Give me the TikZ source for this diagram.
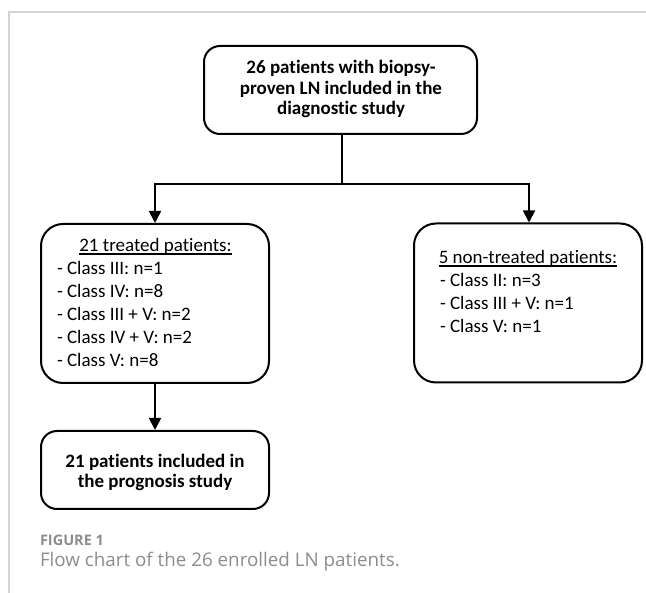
\documentclass[tikz,border=0pt]{standalone}
\usepackage{fontspec}
\setmainfont{Carlito}[Ligatures={NoCommon,NoContextual}, Contextuals=NoAlternate]
\newfontfamily\capfont{Open Sans}[Ligatures=NoCommon]
\usetikzlibrary{arrows.meta}
\definecolor{framegray}{HTML}{D4D4D4}
\definecolor{capgray}{HTML}{8C8C8C}
\newcommand{\boxfont}{\fontsize{19}{20.5}\selectfont}
\newcommand{\listfont}{\fontsize{19}{23}\selectfont}
\newcommand{\myul}[1]{\setbox0\hbox{#1}\rlap{\rule[-2.6pt]{\wd0}{1.1pt}}\box0}
\tikzset{
  flowbox/.style={draw=black, line width=2pt, rectangle, inner sep=0pt},
  txt/.style={inner sep=0pt, outer sep=0pt},
  conn/.style={draw=black, line width=1.8pt},
  arr/.style={conn, -{Triangle[length=12pt,width=12pt]}},
}
\begin{document}
\begin{tikzpicture}[x=1pt, y=-1pt]
\useasboundingbox (0,0) rectangle (646,593);
% frame
\draw[framegray, line width=1.2pt] (9,593) -- (9,12) -- (646,12);
% boxes
\node[flowbox, rounded corners=16pt, minimum width=273pt, minimum height=88pt] (top) at (340.5,90) {};
\node[flowbox, rounded corners=22pt, minimum width=228pt, minimum height=159pt] (left) at (155,303.5) {};
\node[flowbox, rounded corners=22pt, minimum width=228pt, minimum height=159pt] (right) at (528,303) {};
\node[flowbox, rounded corners=16pt, minimum width=228pt, minimum height=78pt] (bottom) at (155,470) {};
% texts
\node[txt, anchor=base, font=\boxfont\bfseries] (toptxt) at (341,74)
  {\begin{tabular}[t]{@{}c@{}}26 patients with biopsy-\\proven LN included in the\\diagnostic study\end{tabular}};
\node[txt, anchor=base, font=\listfont] (lefthead) at (155.5,252) {\myul{21 treated patients:}};
\node[txt, anchor=base west, font=\listfont] (leftlist) at (57,275)
  {\begin{tabular}[t]{@{}l@{}}- Class III: n=1\\- Class IV: n=8\\- Class III + V: n=2\\- Class IV + V: n=2\\- Class V: n=8\end{tabular}};
\node[txt, anchor=base, font=\listfont] (righthead) at (528,264) {\myul{5 non-treated patients:}};
\node[txt, anchor=base west, font=\listfont] (rightlist) at (440,287)
  {\begin{tabular}[t]{@{}l@{}}- Class II: n=3\\- Class III + V: n=1\\- Class V: n=1\end{tabular}};
\node[txt, anchor=base, font=\boxfont\bfseries] (bottomtxt) at (155,467.5)
  {\begin{tabular}[t]{@{}c@{}}21 patients included in\\the prognosis study\end{tabular}};
% caption
\node[txt, anchor=base west, font=\capfont\bfseries\fontsize{14.5}{17}\selectfont, text=capgray] (figlabel) at (40,546) {FIGURE 1};
\node[txt, anchor=base west, font=\capfont\fontsize{18.8}{22}\selectfont, text=capgray] (caption) at (40,567) {Flow chart of the 26 enrolled LN patients.};
% connectors
\coordinate (split) at (342,184);
\draw[conn] (top.south -| split) -- (split);
\draw[arr] (split) -| (left.north);
\draw[arr] (split) -| ([xshift=1pt]right.north);
\draw[arr] (left.south) -- (bottom.north);
\end{tikzpicture}
\end{document}
